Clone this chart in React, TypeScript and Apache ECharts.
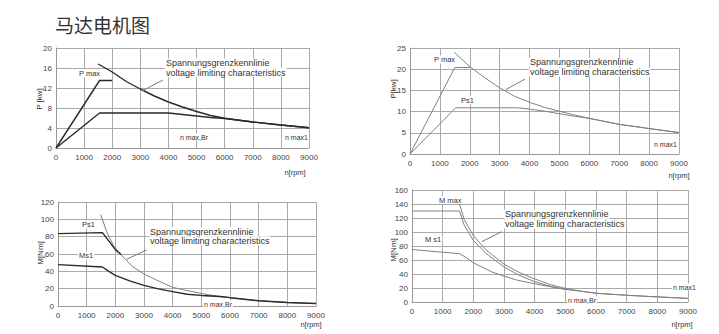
import React, { useEffect, useRef } from "react";
import * as echarts from "echarts";

// ---- data (rpm, value) ----
const xTicks = [0, 9000, 1000];
const p1Pmax = [[0, 0], [1550, 13.5], [2000, 13.5]];
const p1Ps = [[0, 0], [1550, 7], [4000, 7], [4500, 6.7], [5000, 6.4], [5500, 6.1], [6000, 5.9], [7000, 5.2], [8000, 4.6], [9000, 4.05]];
const p1Volt = [[1500, 16.8], [2000, 15.2], [2500, 13.3], [3000, 11.8], [3500, 10.4], [4000, 9.2], [4500, 8.2], [5000, 7.3], [5500, 6.5], [6000, 5.95], [7000, 5.2], [8000, 4.6], [9000, 4.05]];

const p2Pmax = [[0, 0], [1500, 20.4], [2000, 20.4]];
const p2Ps1 = [[0, 0], [1530, 10.9], [3600, 10.9], [4000, 10.6], [4500, 10.1], [5000, 9.5], [5500, 8.9], [6000, 8.4], [7000, 7.0], [8000, 6.0], [9000, 5.05]];
const p2Volt = [[1480, 24.0], [2000, 20.6], [2500, 18.0], [3000, 15.6], [3500, 13.6], [4000, 12.2], [4500, 11.0], [5000, 10.1], [5500, 9.2], [6000, 8.4], [7000, 7.0], [8000, 6.0], [9000, 5.05]];

const m3Ps1 = [[0, 83.5], [1550, 84.7], [1750, 76], [2000, 65], [2200, 59.5]];
const m3Volt = [[1490, 105.5], [1700, 85.5], [1930, 70], [2200, 59], [2600, 45.5], [3000, 37], [3500, 29], [4000, 21.5], [4500, 17.8], [5000, 14.5], [5500, 11.6], [5750, 10.6], [6000, 9.6], [7000, 6.0], [8000, 4.0], [9000, 2.8]];
const m3Ms1 = [[0, 47.7], [1550, 45], [1800, 39.3], [2000, 35.3], [2500, 29], [3000, 23.8], [3500, 19.8], [4000, 16.6], [4500, 13.6], [5000, 12.2], [5500, 11.2], [5750, 10.6], [6000, 9.6], [7000, 6.0], [8000, 4.0], [9000, 2.8]];

const m4Mmax = [[0, 130], [1550, 130], [1700, 110], [2000, 88], [2400, 70], [3000, 50], [3500, 38], [4000, 29], [4500, 22.5], [5000, 18]];
const m4Volt = [[1490, 149], [1700, 118], [2000, 95], [2400, 75], [3000, 54], [3500, 42], [4000, 33], [4500, 25], [5000, 19.5], [5500, 15.5], [6000, 12.5], [7000, 9.6], [8000, 7.3], [9000, 5.2]];
const m4Ms1 = [[0, 75], [1550, 69], [1750, 64], [2000, 56], [2600, 43], [3000, 37], [3400, 31.5], [4000, 26], [4500, 22], [5000, 18], [5500, 15.5], [6000, 12.5], [7000, 9.6], [8000, 7.3], [9000, 5.2]];

const yRanges = [
  [0, 20, 4],
  [0, 25, 5],
  [0, 120, 20],
  [0, 160, 20],
];

const FONT = "Liberation Sans, Arial, sans-serif";

function txt(text: string, x: number, y: number, size: number, align: string = "left", bg = true, rot = 0) {
  return {
    type: "text",
    x,
    y,
    rotation: rot,
    z: 100,
    style: {
      text,
      fill: "#333",
      font: `${size}px ${FONT}`,
      align,
      verticalAlign: "middle",
      backgroundColor: bg ? "#fff" : undefined,
      padding: bg ? [0, 1] : undefined,
    },
  };
}
function ptr(x1: number, y1: number, x2: number, y2: number) {
  return { type: "line", z: 100, shape: { x1, y1, x2, y2 }, style: { stroke: "#777", lineWidth: 1 } };
}

export default function App() {
  const ref = useRef<HTMLDivElement>(null);
  useEffect(() => {
    const chart = echarts.init(ref.current!, null, { renderer: "svg" });
    const grids = [
      { left: 56, top: 48, width: 253, height: 100 },
      { left: 410, top: 48, width: 269, height: 106 },
      { left: 58, top: 202, width: 258, height: 104 },
      { left: 412, top: 190, width: 276, height: 112 },
    ];
    const xAxis = grids.map((_, i) => ({
      type: "value",
      gridIndex: i,
      min: xTicks[0],
      max: xTicks[1],
      interval: xTicks[2],
      axisLine: { show: true, lineStyle: { color: "#999" } },
      axisTick: { show: false },
      axisLabel: { fontSize: 8, color: "#444", margin: 5, fontFamily: FONT, formatter: (v: number) => String(v) },
      splitLine: { show: true, lineStyle: { color: "#aaa", width: 1 } },
    }));
    const yAxis = grids.map((_, i) => ({
      type: "value",
      gridIndex: i,
      min: yRanges[i][0],
      max: yRanges[i][1],
      interval: yRanges[i][2],
      axisLine: { show: true, lineStyle: { color: "#999" } },
      axisTick: { show: false },
      axisLabel: { fontSize: 8, color: "#444", margin: 4, fontFamily: FONT, formatter: (v: number) => String(v) },
      splitLine: { show: true, lineStyle: { color: "#aaa", width: 1 } },
    }));
    const dark = "#2a2a2a";
    const gray = "#808080";
    const mk = (data: number[][], idx: number, color: string, width: number) => ({
      type: "line",
      xAxisIndex: idx,
      yAxisIndex: idx,
      data,
      showSymbol: false,
      silent: true,
      lineStyle: { color, width },
      z: 5,
    });
    const series = [
      mk(p1Pmax, 0, dark, 1.4),
      mk(p1Ps, 0, dark, 1.4),
      mk(p1Volt, 0, dark, 1.4),
      mk(p2Pmax, 1, gray, 1),
      mk(p2Ps1, 1, gray, 1),
      mk(p2Volt, 1, gray, 1),
      mk(m3Volt, 2, gray, 1),
      mk(m3Ps1, 2, dark, 1.4),
      mk(m3Ms1, 2, dark, 1.4),
      mk(m4Mmax, 3, gray, 1),
      mk(m4Volt, 3, gray, 1),
      mk(m4Ms1, 3, gray, 1),
    ];
    const graphic = [
      // panel 1
      txt("P max", 78, 73, 7.5),
      txt("Spannungsgrenzkennlinie", 165, 63, 9),
      txt("voltage limiting characteristics", 165, 72.5, 9),
      ptr(163, 80, 142, 91),
      txt("n max,Br", 179, 137, 7),
      txt("n max1", 309, 137, 7, "right"),
      txt("P [kw]", 39, 99, 8, "center", false, Math.PI / 2),
      txt("n[rpm]", 295, 172, 7.5, "center", false),
      // panel 2
      txt("P max", 433, 59.5, 7.5),
      txt("Ps1", 460, 100, 7.5),
      txt("Spannungsgrenzkennlinie", 529, 62.3, 9),
      txt("voltage limiting characteristics", 529, 72.3, 9),
      ptr(525, 79, 506, 89.5),
      txt("n max1", 678, 144, 7, "right"),
      txt("P[kw]", 393, 89, 8, "center", false, Math.PI / 2),
      txt("n[rpm]", 679, 175.5, 7.5, "center", false),
      // panel 3
      txt("Ps1", 81, 224.5, 7.5),
      txt("Ms1", 78, 255.5, 7.5),
      txt("Spannungsgrenzkennlinie", 149, 231.7, 9),
      txt("voltage limiting characteristics", 149, 240.7, 9),
      ptr(146.5, 250, 126.7, 259.3),
      txt("n max,Br", 203, 304, 7),
      txt("M[Nm]", 40, 253, 8, "center", false, Math.PI / 2),
      txt("n[rpm]", 311, 324.5, 7.5, "center", false),
      // panel 4
      txt("M max", 438, 200, 7.5),
      txt("M s1", 424, 239.3, 7.5),
      txt("Spannungsgrenzkennlinie", 504, 214.3, 9),
      txt("voltage limiting characteristics", 504, 224, 9),
      ptr(501.7, 231.7, 481.7, 241.7),
      txt("n max1", 672, 287, 7),
      txt("n max,Br", 567, 300, 7),
      txt("M[Nm]", 393, 250, 8, "center", false, Math.PI / 2),
      txt("n[rpm]", 682, 324, 7.5, "center", false),
    ];
    chart.setOption({
      animation: false,
      backgroundColor: "#fff",
      title: {
        text: "马达电机图",
        left: 50,
        top: 10,
        textStyle: { fontSize: 19, fontWeight: "normal", color: "#333", fontFamily: "Noto Sans CJK SC" },
      },
      grid: grids,
      xAxis,
      yAxis,
      series,
      graphic,
    });
    return () => chart.dispose();
  }, []);
  return <div ref={ref} style={{ position: "absolute", left: 0, top: 0, width: 719, height: 334 }} />;
}
